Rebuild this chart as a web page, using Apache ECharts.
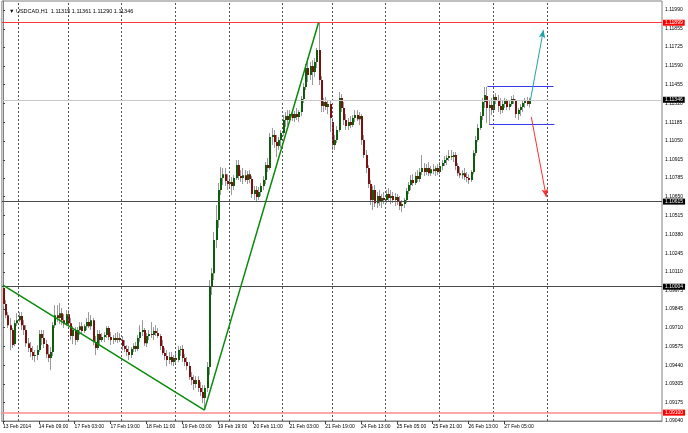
<!DOCTYPE html>
<html><head><meta charset="utf-8">
<script src="https://cdn.jsdelivr.net/npm/echarts@6.0.0/dist/echarts.min.js"></script>
<style>html,body{margin:0;padding:0;background:#fff}#c{width:688px;height:433px}</style>
</head><body><div id="c"></div>
<script>
// ---- data (USDCAD H1, bar index 0 = 13 Feb 2014 17:00) ----
const openP = [
1.09995,1.09879,1.09800,1.09728,1.09693,1.09592,1.09742,1.09764,1.09793,1.09728,
1.09693,1.09599,1.09564,1.09535,1.09506,1.09513,1.09549,1.09664,1.09636,1.09592,
1.09520,1.09492,1.09535,1.09728,1.09800,1.09779,1.09814,1.09764,1.09735,1.09807,
1.09742,1.09650,1.09693,1.09621,1.09693,1.09721,1.09686,1.09721,1.09750,1.09721,
1.09764,1.09607,1.09564,1.09664,1.09621,1.09643,1.09657,1.09707,1.09643,1.09621,
1.09636,1.09621,1.09636,1.09621,1.09578,1.09556,1.09535,1.09513,1.09556,1.09578,
1.09556,1.09636,1.09679,1.09693,1.09599,1.09650,1.09664,1.09657,1.09686,1.09671,
1.09650,1.09578,1.09528,1.09506,1.09477,1.09499,1.09463,1.09492,1.09477,1.09549,
1.09556,1.09492,1.09463,1.09434,1.09355,1.09334,1.09305,1.09334,1.09277,1.09248,
1.09205,1.09277,1.09427,1.10002,1.10101,1.10339,1.10482,1.10698,1.10784,1.10812,
1.10763,1.10741,1.10756,1.10727,1.10784,1.10877,1.10798,1.10784,1.10805,1.10770,
1.10812,1.10777,1.10669,1.10698,1.10648,1.10684,1.10727,1.10770,1.10877,1.10856,
1.11079,1.11093,1.11043,1.11014,1.11057,1.11107,1.11200,1.11229,1.11200,1.11243,
1.11215,1.11243,1.11222,1.11258,1.11351,1.11438,1.11574,1.11523,1.11588,1.11545,
1.11617,1.11703,1.11488,1.11301,1.11330,1.11294,1.11315,1.11186,1.11021,1.11057,
1.11129,1.11359,1.11287,1.11200,1.11157,1.11186,1.11164,1.11215,1.11236,1.11207,
1.11229,1.11057,1.10949,1.10856,1.10741,1.10626,1.10698,1.10604,1.10655,1.10612,
1.10641,1.10626,1.10669,1.10641,1.10655,1.10626,1.10648,1.10612,1.10583,1.10597,
1.10626,1.10691,1.10734,1.10770,1.10748,1.10798,1.10777,1.10827,1.10856,1.10827,
1.10856,1.10819,1.10848,1.10834,1.10856,1.10827,1.10870,1.10892,1.10913,1.10928,
1.10942,1.10935,1.10949,1.10870,1.10819,1.10805,1.10819,1.10791,1.10784,1.10770,
1.10827,1.10964,1.11057,1.11143,1.11229,1.11330,1.11373,1.11287,1.11308,1.11272,
1.11366,1.11344,1.11301,1.11272,1.11315,1.11337,1.11294,1.11315,1.11351,1.11337,
1.11243,1.11272,1.11294,1.11322,1.11337,1.11315];
const highP = [
1.10016,1.09908,1.09822,1.09779,1.09707,1.09764,1.09814,1.09822,1.09822,1.09764,
1.09728,1.09636,1.09607,1.09578,1.09549,1.09585,1.09693,1.09693,1.09693,1.09621,
1.09585,1.09571,1.09750,1.09872,1.09872,1.09886,1.09851,1.09807,1.09836,1.09836,
1.09779,1.09721,1.09714,1.09714,1.09750,1.09750,1.09735,1.09779,1.09822,1.09800,
1.09779,1.09650,1.09693,1.09693,1.09671,1.09679,1.09721,1.09721,1.09679,1.09657,
1.09671,1.09679,1.09671,1.09650,1.09621,1.09585,1.09578,1.09571,1.09599,1.09607,
1.09657,1.09728,1.09764,1.09707,1.09671,1.09693,1.09750,1.09714,1.09728,1.09707,
1.09664,1.09621,1.09564,1.09549,1.09535,1.09535,1.09513,1.09535,1.09578,1.09578,
1.09585,1.09520,1.09499,1.09463,1.09391,1.09369,1.09362,1.09362,1.09320,1.09298,
1.09298,1.09463,1.10052,1.10138,1.10397,1.10590,1.10748,1.10863,1.10856,1.10856,
1.10812,1.10798,1.10791,1.10805,1.10913,1.10913,1.10841,1.10856,1.10841,1.10834,
1.10841,1.10798,1.10727,1.10727,1.10720,1.10748,1.10798,1.10899,1.10928,1.11107,
1.11143,1.11129,1.11093,1.11079,1.11129,1.11236,1.11258,1.11272,1.11272,1.11272,
1.11265,1.11287,1.11272,1.11373,1.11466,1.11602,1.11617,1.11617,1.11631,1.11646,
1.11718,1.11899,1.11516,1.11359,1.11366,1.11344,1.11344,1.11215,1.11093,1.11157,
1.11402,1.11387,1.11330,1.11243,1.11215,1.11229,1.11236,1.11272,1.11272,1.11258,
1.11243,1.11093,1.10985,1.10877,1.10770,1.10727,1.10734,1.10684,1.10698,1.10669,
1.10684,1.10698,1.10713,1.10698,1.10684,1.10676,1.10669,1.10655,1.10626,1.10641,
1.10713,1.10756,1.10805,1.10812,1.10827,1.10841,1.10856,1.10949,1.10892,1.10884,
1.10899,1.10870,1.10884,1.10870,1.10884,1.10899,1.10913,1.10942,1.10949,1.10985,
1.10985,1.10971,1.10971,1.10892,1.10863,1.10841,1.10856,1.10827,1.10812,1.10841,
1.10985,1.11086,1.11172,1.11258,1.11359,1.11438,1.11438,1.11344,1.11359,1.11387,
1.11394,1.11380,1.11359,1.11344,1.11359,1.11351,1.11344,1.11373,1.11380,1.11351,
1.11287,1.11315,1.11344,1.11359,1.11366,1.11361];
const lowP = [
1.09865,1.09779,1.09707,1.09549,1.09564,1.09578,1.09721,1.09750,1.09693,1.09657,
1.09571,1.09535,1.09499,1.09477,1.09463,1.09477,1.09535,1.09585,1.09564,1.09492,
1.09463,1.09405,1.09506,1.09707,1.09750,1.09735,1.09728,1.09707,1.09721,1.09721,
1.09621,1.09592,1.09585,1.09607,1.09657,1.09664,1.09671,1.09693,1.09707,1.09693,
1.09585,1.09513,1.09549,1.09592,1.09607,1.09607,1.09636,1.09621,1.09585,1.09592,
1.09607,1.09599,1.09607,1.09549,1.09535,1.09506,1.09477,1.09492,1.09535,1.09535,
1.09542,1.09607,1.09650,1.09578,1.09571,1.09621,1.09636,1.09621,1.09650,1.09636,
1.09549,1.09513,1.09477,1.09434,1.09448,1.09441,1.09434,1.09455,1.09463,1.09506,
1.09463,1.09434,1.09405,1.09334,1.09298,1.09262,1.09277,1.09248,1.09219,1.09168,
1.09118,1.09248,1.09369,1.09944,1.10052,1.10282,1.10425,1.10662,1.10734,1.10727,
1.10698,1.10713,1.10662,1.10698,1.10770,1.10770,1.10756,1.10741,1.10756,1.10741,
1.10748,1.10641,1.10626,1.10612,1.10626,1.10655,1.10698,1.10741,1.10827,1.10841,
1.11021,1.11000,1.10935,1.10985,1.11000,1.11086,1.11150,1.11164,1.11186,1.11193,
1.11186,1.11200,1.11186,1.11229,1.11322,1.11416,1.11474,1.11488,1.11452,1.11509,
1.11574,1.11452,1.11258,1.11258,1.11272,1.11243,1.11115,1.10985,1.10985,1.11035,
1.11115,1.11258,1.11164,1.11129,1.11129,1.11143,1.11150,1.11186,1.11193,1.11164,
1.11021,1.10928,1.10819,1.10713,1.10590,1.10554,1.10576,1.10569,1.10583,1.10569,
1.10597,1.10604,1.10612,1.10597,1.10604,1.10583,1.10590,1.10554,1.10540,1.10569,
1.10604,1.10669,1.10698,1.10727,1.10734,1.10756,1.10756,1.10805,1.10798,1.10805,
1.10798,1.10798,1.10812,1.10798,1.10805,1.10812,1.10841,1.10870,1.10877,1.10906,
1.10913,1.10899,1.10841,1.10798,1.10784,1.10777,1.10770,1.10756,1.10741,1.10756,
1.10812,1.10942,1.11043,1.11129,1.11200,1.11287,1.11179,1.11164,1.11236,1.11258,
1.11315,1.11258,1.11243,1.11251,1.11287,1.11272,1.11272,1.11301,1.11315,1.11215,
1.11200,1.11229,1.11258,1.11287,1.11301,1.11290];
const closeP = [
1.09879,1.09800,1.09728,1.09693,1.09585,1.09742,1.09764,1.09793,1.09728,1.09693,
1.09599,1.09564,1.09535,1.09506,1.09513,1.09549,1.09664,1.09636,1.09592,1.09520,
1.09492,1.09535,1.09728,1.09800,1.09779,1.09814,1.09764,1.09735,1.09807,1.09742,
1.09650,1.09693,1.09621,1.09693,1.09721,1.09686,1.09721,1.09750,1.09721,1.09764,
1.09607,1.09564,1.09664,1.09621,1.09643,1.09657,1.09707,1.09643,1.09621,1.09636,
1.09621,1.09636,1.09621,1.09578,1.09556,1.09535,1.09513,1.09556,1.09578,1.09556,
1.09636,1.09679,1.09693,1.09599,1.09650,1.09664,1.09657,1.09686,1.09671,1.09650,
1.09578,1.09528,1.09506,1.09477,1.09499,1.09463,1.09492,1.09477,1.09549,1.09556,
1.09492,1.09463,1.09434,1.09355,1.09334,1.09305,1.09334,1.09277,1.09248,1.09205,
1.09277,1.09427,1.10002,1.10101,1.10339,1.10482,1.10698,1.10784,1.10812,1.10763,
1.10741,1.10756,1.10727,1.10784,1.10877,1.10798,1.10784,1.10805,1.10770,1.10812,
1.10777,1.10669,1.10698,1.10648,1.10684,1.10727,1.10770,1.10877,1.10856,1.11079,
1.11093,1.11043,1.11014,1.11057,1.11107,1.11200,1.11229,1.11200,1.11243,1.11215,
1.11243,1.11222,1.11258,1.11351,1.11438,1.11574,1.11523,1.11588,1.11545,1.11617,
1.11703,1.11488,1.11301,1.11330,1.11294,1.11315,1.11215,1.11021,1.11057,1.11129,
1.11359,1.11287,1.11200,1.11157,1.11186,1.11164,1.11215,1.11236,1.11207,1.11229,
1.11057,1.10949,1.10856,1.10741,1.10626,1.10698,1.10604,1.10655,1.10612,1.10641,
1.10626,1.10669,1.10641,1.10655,1.10626,1.10648,1.10612,1.10583,1.10597,1.10626,
1.10691,1.10734,1.10770,1.10748,1.10798,1.10777,1.10827,1.10856,1.10827,1.10856,
1.10819,1.10848,1.10834,1.10856,1.10827,1.10870,1.10892,1.10913,1.10928,1.10942,
1.10935,1.10949,1.10870,1.10819,1.10805,1.10819,1.10791,1.10784,1.10770,1.10827,
1.10964,1.11057,1.11143,1.11229,1.11330,1.11380,1.11287,1.11308,1.11272,1.11366,
1.11344,1.11301,1.11272,1.11315,1.11337,1.11294,1.11315,1.11351,1.11337,1.11243,
1.11272,1.11294,1.11322,1.11337,1.11315,1.11346];

const timeLabels = ['13 Feb 2014','14 Feb 09:00','17 Feb 03:00','17 Feb 19:00','18 Feb 11:00',
  '19 Feb 03:00','19 Feb 19:00','20 Feb 11:00','21 Feb 03:00','21 Feb 19:00','24 Feb 13:00',
  '25 Feb 05:00','25 Feb 21:00','26 Feb 13:00','27 Feb 05:00'];
const timeLabelIdx = [0,16,32,48,64,80,96,112,128,144,160,176,192,208,224];
const daySeparatorIdx = [7,29,53,77,101,125,147,171,195,219,243];
const priceTicks = [1.11990,1.11855,1.11725,1.11590,1.11455,1.11320,1.11185,1.11050,1.10915,
  1.10785,1.10650,1.10515,1.10380,1.10245,1.10110,1.09975,1.09845,1.09710,1.09575,1.09440,
  1.09305,1.09175,1.09040];
const redLevels = [1.11899, 1.09100];
const darkLevels = [1.10615, 1.10004];
const bidLevel = 1.11346;
const trendIdx = [0, 90, 141];
const trendPrice = [1.10016, 1.09118, 1.11899];
const boxTopIdx = [216.5, 246], boxTopPrice = 1.11440;
const boxBotIdx = [217.4, 246.4], boxBotPrice = 1.11172;
const upArrowIdx = [235.7, 241.5], upArrowPrice = [1.11344, 1.11846];
const downArrowIdx = [236.1, 242.8], downArrowPrice = [1.11222, 1.10648];
const headerText = '\u25BC USDCAD,H1  1.11315 1.11361 1.11290 1.11346';

// ---- chart ----
const FONT = 'Liberation Sans';
const candles = openP.map((o, i) => [i, o, closeP[i], lowP[i], highP[i]]);

function priceBox(bg) {
  return {show: true, position: 'end', distance: 1, color: '#fff', backgroundColor: bg,
    padding: [1, 2, 0, 2], fontSize: 5, fontFamily: FONT,
    formatter: p => Number(p.value).toFixed(5)};
}
function hLine(v, color, width, bg) {
  return {type: 'line', data: [], silent: true,
    markLine: {silent: true, precision: 5, symbol: ['none', 'none'], animation: false,
      lineStyle: {color, width, type: 'solid'}, label: priceBox(bg), data: [{yAxis: v}]}};
}
function segSeries(x1, y1, x2, y2, color, width, arrow) {
  const ls = {color, width, type: 'solid'};
  return {type: 'line', data: [], silent: true, color: color, z: 5,
    markLine: {silent: true, precision: 5, symbol: ['none', arrow ? 'arrow' : 'none'], symbolSize: [5, 8], animation: false,
      lineStyle: ls, itemStyle: {color}, label: {show: false},
      data: [[{coord: [x1, y1], lineStyle: ls}, {coord: [x2, y2], lineStyle: ls}]]}};
}

const series = [
  {type: 'line', data: [], silent: true,
    markLine: {silent: true, precision: 5, symbol: ['none', 'none'], animation: false, label: {show: false},
      lineStyle: {color: '#555', type: [2, 2], width: 1},
      data: daySeparatorIdx.map(v => ({xAxis: v}))}},
  hLine(bidLevel, '#c8c8c8', 1, '#000'),
  hLine(darkLevels[0], '#4a4a4a', 1, '#000'),
  hLine(darkLevels[1], '#4a4a4a', 1, '#000'),
  {
    type: 'custom',
    data: candles,
    encode: {x: 0, y: [1, 2, 3, 4]},
    clip: true,
    silent: true,
    z: 3,
    renderItem: function (params, api) {
      const i = api.value(0);
      const o = api.coord([i, api.value(1)]);
      const c = api.coord([i, api.value(2)]);
      const l = api.coord([i, api.value(3)]);
      const h = api.coord([i, api.value(4)]);
      const x = Math.round(o[0]);
      const bull = api.value(2) >= api.value(1);
      const top = Math.min(o[1], c[1]), bot = Math.max(o[1], c[1]);
      return {type: 'group', children: [
        {type: 'line', shape: {x1: x + 0.5, y1: h[1], x2: x + 0.5, y2: l[1]}, style: {stroke: '#9a9a9a', lineWidth: 1}},
        {type: 'rect', shape: {x: x, y: top, width: 2, height: Math.max(1, bot - top)},
          style: {fill: bull ? '#0b5e0b' : '#7d0f0f', stroke: null}}
      ]};
    }
  },
  hLine(redLevels[0], '#ff3a3a', 1, '#ff0000'),
  hLine(redLevels[1], '#ff8c8c', 1.5, '#ff0000')
];
for (let k = 0; k < trendIdx.length - 1; k++)
  series.push(segSeries(trendIdx[k], trendPrice[k], trendIdx[k + 1], trendPrice[k + 1], '#0a8a0a', 1.5, false));
series.push(segSeries(boxTopIdx[0], boxTopPrice, boxTopIdx[1], boxTopPrice, '#3a3af0', 1, false));
series.push(segSeries(boxBotIdx[0], boxBotPrice, boxBotIdx[1], boxBotPrice, '#3a3af0', 1, false));
series.push(segSeries(upArrowIdx[0], upArrowPrice[0], upArrowIdx[1], upArrowPrice[1], '#22a0a8', 1, true));
series.push(segSeries(downArrowIdx[0], downArrowPrice[0], downArrowIdx[1], downArrowPrice[1], '#ff3030', 1, true));

const chart = echarts.init(document.getElementById('c'), null, {renderer: 'canvas'});
chart.setOption({
  animation: false,
  backgroundColor: '#ffffff',
  title: {text: headerText, left: 4, top: 3, textStyle: {fontSize: 5.5, fontWeight: 'normal', color: '#000', fontFamily: FONT}},
  grid: {left: 1, right: 26, top: 1, bottom: 12, show: true, borderColor: '#808080', borderWidth: 1, backgroundColor: '#fff'},
  xAxis: {
    type: 'value', min: -0.5, max: 294.5,
    axisLine: {show: true, lineStyle: {color: '#808080'}},
    axisTick: {show: true, customValues: timeLabelIdx, length: 3, lineStyle: {color: '#404040'}},
    axisLabel: {customValues: timeLabelIdx, align: 'left', margin: 3, fontSize: 5, fontFamily: FONT, color: '#000',
      formatter: v => { const k = timeLabelIdx.indexOf(Math.round(v)); return k >= 0 ? timeLabels[k] : ''; }},
    splitLine: {show: false}
  },
  yAxis: {
    type: 'value', position: 'right', min: 1.09040, max: 1.12055,
    axisLine: {show: true, lineStyle: {color: '#808080'}},
    axisTick: {show: true, customValues: priceTicks, length: 2, lineStyle: {color: '#404040'}},
    axisLabel: {customValues: priceTicks, margin: 3, fontSize: 5, fontFamily: FONT, color: '#000',
      formatter: v => Number(v).toFixed(5)},
    splitLine: {show: false}
  },
  series: series
});
</script></body></html>
